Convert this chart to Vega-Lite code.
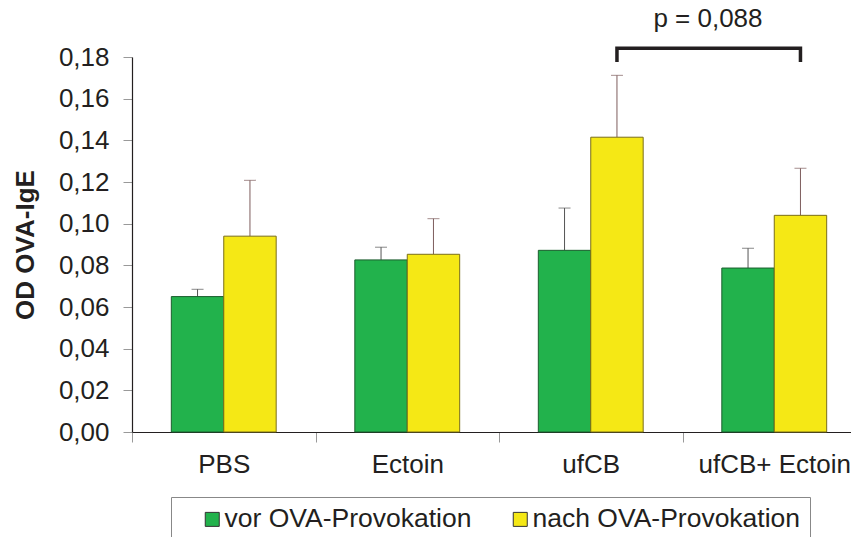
{
  "$schema": "https://vega.github.io/schema/vega-lite/v6.json",
  "width": 719,
  "height": 375,
  "autosize": "none",
  "padding": {"left": 132, "top": 57, "right": 0, "bottom": 105},
  "background": "white",
  "config": {
    "font": "Liberation Sans",
    "view": {"stroke": null},
    "axis": {"labelFont": "Liberation Sans", "titleFont": "Liberation Sans", "labelColor": "#231f20", "titleColor": "#231f20"}
  },
  "datasets": {
    "bars": [
      {"group": "PBS", "series": "vor OVA-Provokation", "value": 0.065, "upper": 0.0685},
      {"group": "PBS", "series": "nach OVA-Provokation", "value": 0.094, "upper": 0.1208},
      {"group": "Ectoin", "series": "vor OVA-Provokation", "value": 0.0826, "upper": 0.0887},
      {"group": "Ectoin", "series": "nach OVA-Provokation", "value": 0.0853, "upper": 0.1024},
      {"group": "ufCB", "series": "vor OVA-Provokation", "value": 0.0872, "upper": 0.1075},
      {"group": "ufCB", "series": "nach OVA-Provokation", "value": 0.1415, "upper": 0.1712},
      {"group": "ufCB+ Ectoin", "series": "vor OVA-Provokation", "value": 0.0787, "upper": 0.0882},
      {"group": "ufCB+ Ectoin", "series": "nach OVA-Provokation", "value": 0.104, "upper": 0.1266}
    ],
    "bracket": [
      {"group": "ufCB", "series": "nach OVA-Provokation", "y": 0.1776, "order": 1},
      {"group": "ufCB", "series": "nach OVA-Provokation", "y": 0.1842, "order": 2},
      {"group": "ufCB+ Ectoin", "series": "nach OVA-Provokation", "y": 0.1842, "order": 3},
      {"group": "ufCB+ Ectoin", "series": "nach OVA-Provokation", "y": 0.1776, "order": 4}
    ],
    "label": [
      {"group": "ufCB", "series": "nach OVA-Provokation", "y": 0.1944, "text": "p = 0,088"}
    ]
  },
  "encoding": {
    "x": {
      "field": "group", "type": "nominal", "sort": ["PBS", "Ectoin", "ufCB", "ufCB+ Ectoin"],
      "scale": {"range": [0, 734], "paddingInner": 0, "paddingOuter": 0},
      "axis": {
        "title": null, "labelAngle": 0, "labelFontSize": 26, "labelPadding": 9,
        "tickBand": "extent", "tickSize": 10, "tickColor": "#999999", "domainColor": "#231f20", "domainWidth": 1.2, "grid": false
      }
    },
    "xOffset": {
      "field": "series", "type": "nominal",
      "scale": {"domain": ["vor OVA-Provokation", "nach OVA-Provokation"], "paddingInner": 0, "paddingOuter": 0.75}
    }
  },
  "layer": [
    {
      "data": {"name": "bars"},
      "mark": {"type": "rule", "strokeWidth": 1},
      "encoding": {
        "y": {"field": "value", "type": "quantitative"},
        "y2": {"field": "upper"},
        "stroke": {"condition": {"test": "datum.series === 'vor OVA-Provokation'", "value": "#555555"}, "value": "#7d5c5c"}
      }
    },
    {
      "data": {"name": "bars"},
      "mark": {"type": "tick", "size": 12, "thickness": 1, "orient": "horizontal"},
      "encoding": {
        "y": {"field": "upper", "type": "quantitative"},
        "color": {"condition": {"test": "datum.series === 'vor OVA-Provokation'", "value": "#555555"}, "value": "#7d5c5c"}
      }
    },
    {
      "data": {"name": "bars"},
      "mark": {"type": "bar", "strokeWidth": 1, "opacity": 1},
      "encoding": {
        "y": {
          "field": "value", "type": "quantitative",
          "scale": {"domain": [0, 0.18], "nice": false, "zero": true},
          "axis": {
            "title": "OD OVA-IgE", "titleFontSize": 26, "titleFontWeight": "bold", "titlePadding": 20,
            "values": [0, 0.02, 0.04, 0.06, 0.08, 0.1, 0.12, 0.14, 0.16, 0.18],
            "labelExpr": "replace(format(datum.value, '.2f'), '.', ',')",
            "labelFontSize": 26, "labelPadding": 14, "tickSize": 9, "tickColor": "#999999",
            "domainColor": "#231f20", "domainWidth": 1.2, "grid": false
          }
        },
        "fill": {
          "field": "series", "type": "nominal",
          "scale": {"domain": ["vor OVA-Provokation", "nach OVA-Provokation"], "range": ["#22b24c", "#f5e815"]},
          "legend": {
            "title": null, "orient": "none", "direction": "horizontal",
            "legendX": 39, "legendY": 440,
            "fillColor": "white", "strokeColor": "#888888", "padding": 9,
            "symbolType": "square", "symbolSize": 196, "symbolStrokeColor": "#333333", "symbolStrokeWidth": 1,
            "symbolOffset": 19, "labelOffset": -1, "columnPadding": 16,
            "labelFontSize": 26.5, "labelFont": "Liberation Sans", "labelColor": "#231f20", "labelLimit": 400
          }
        },
        "stroke": {"condition": {"test": "datum.series === 'vor OVA-Provokation'", "value": "#1b5e2e"}, "value": "#7a6e1a"}
      }
    },
    {
      "data": {"name": "bracket"},
      "mark": {"type": "line", "stroke": "#231f20", "strokeWidth": 3.5, "strokeJoin": "miter"},
      "encoding": {
        "y": {"field": "y", "type": "quantitative"},
        "order": {"field": "order"}
      }
    },
    {
      "data": {"name": "label"},
      "mark": {"type": "text", "fontSize": 26, "font": "Liberation Sans", "color": "#231f20", "align": "center", "baseline": "alphabetic", "dx": 91},
      "encoding": {
        "y": {"field": "y", "type": "quantitative"},
        "text": {"field": "text"}
      }
    }
  ]
}
